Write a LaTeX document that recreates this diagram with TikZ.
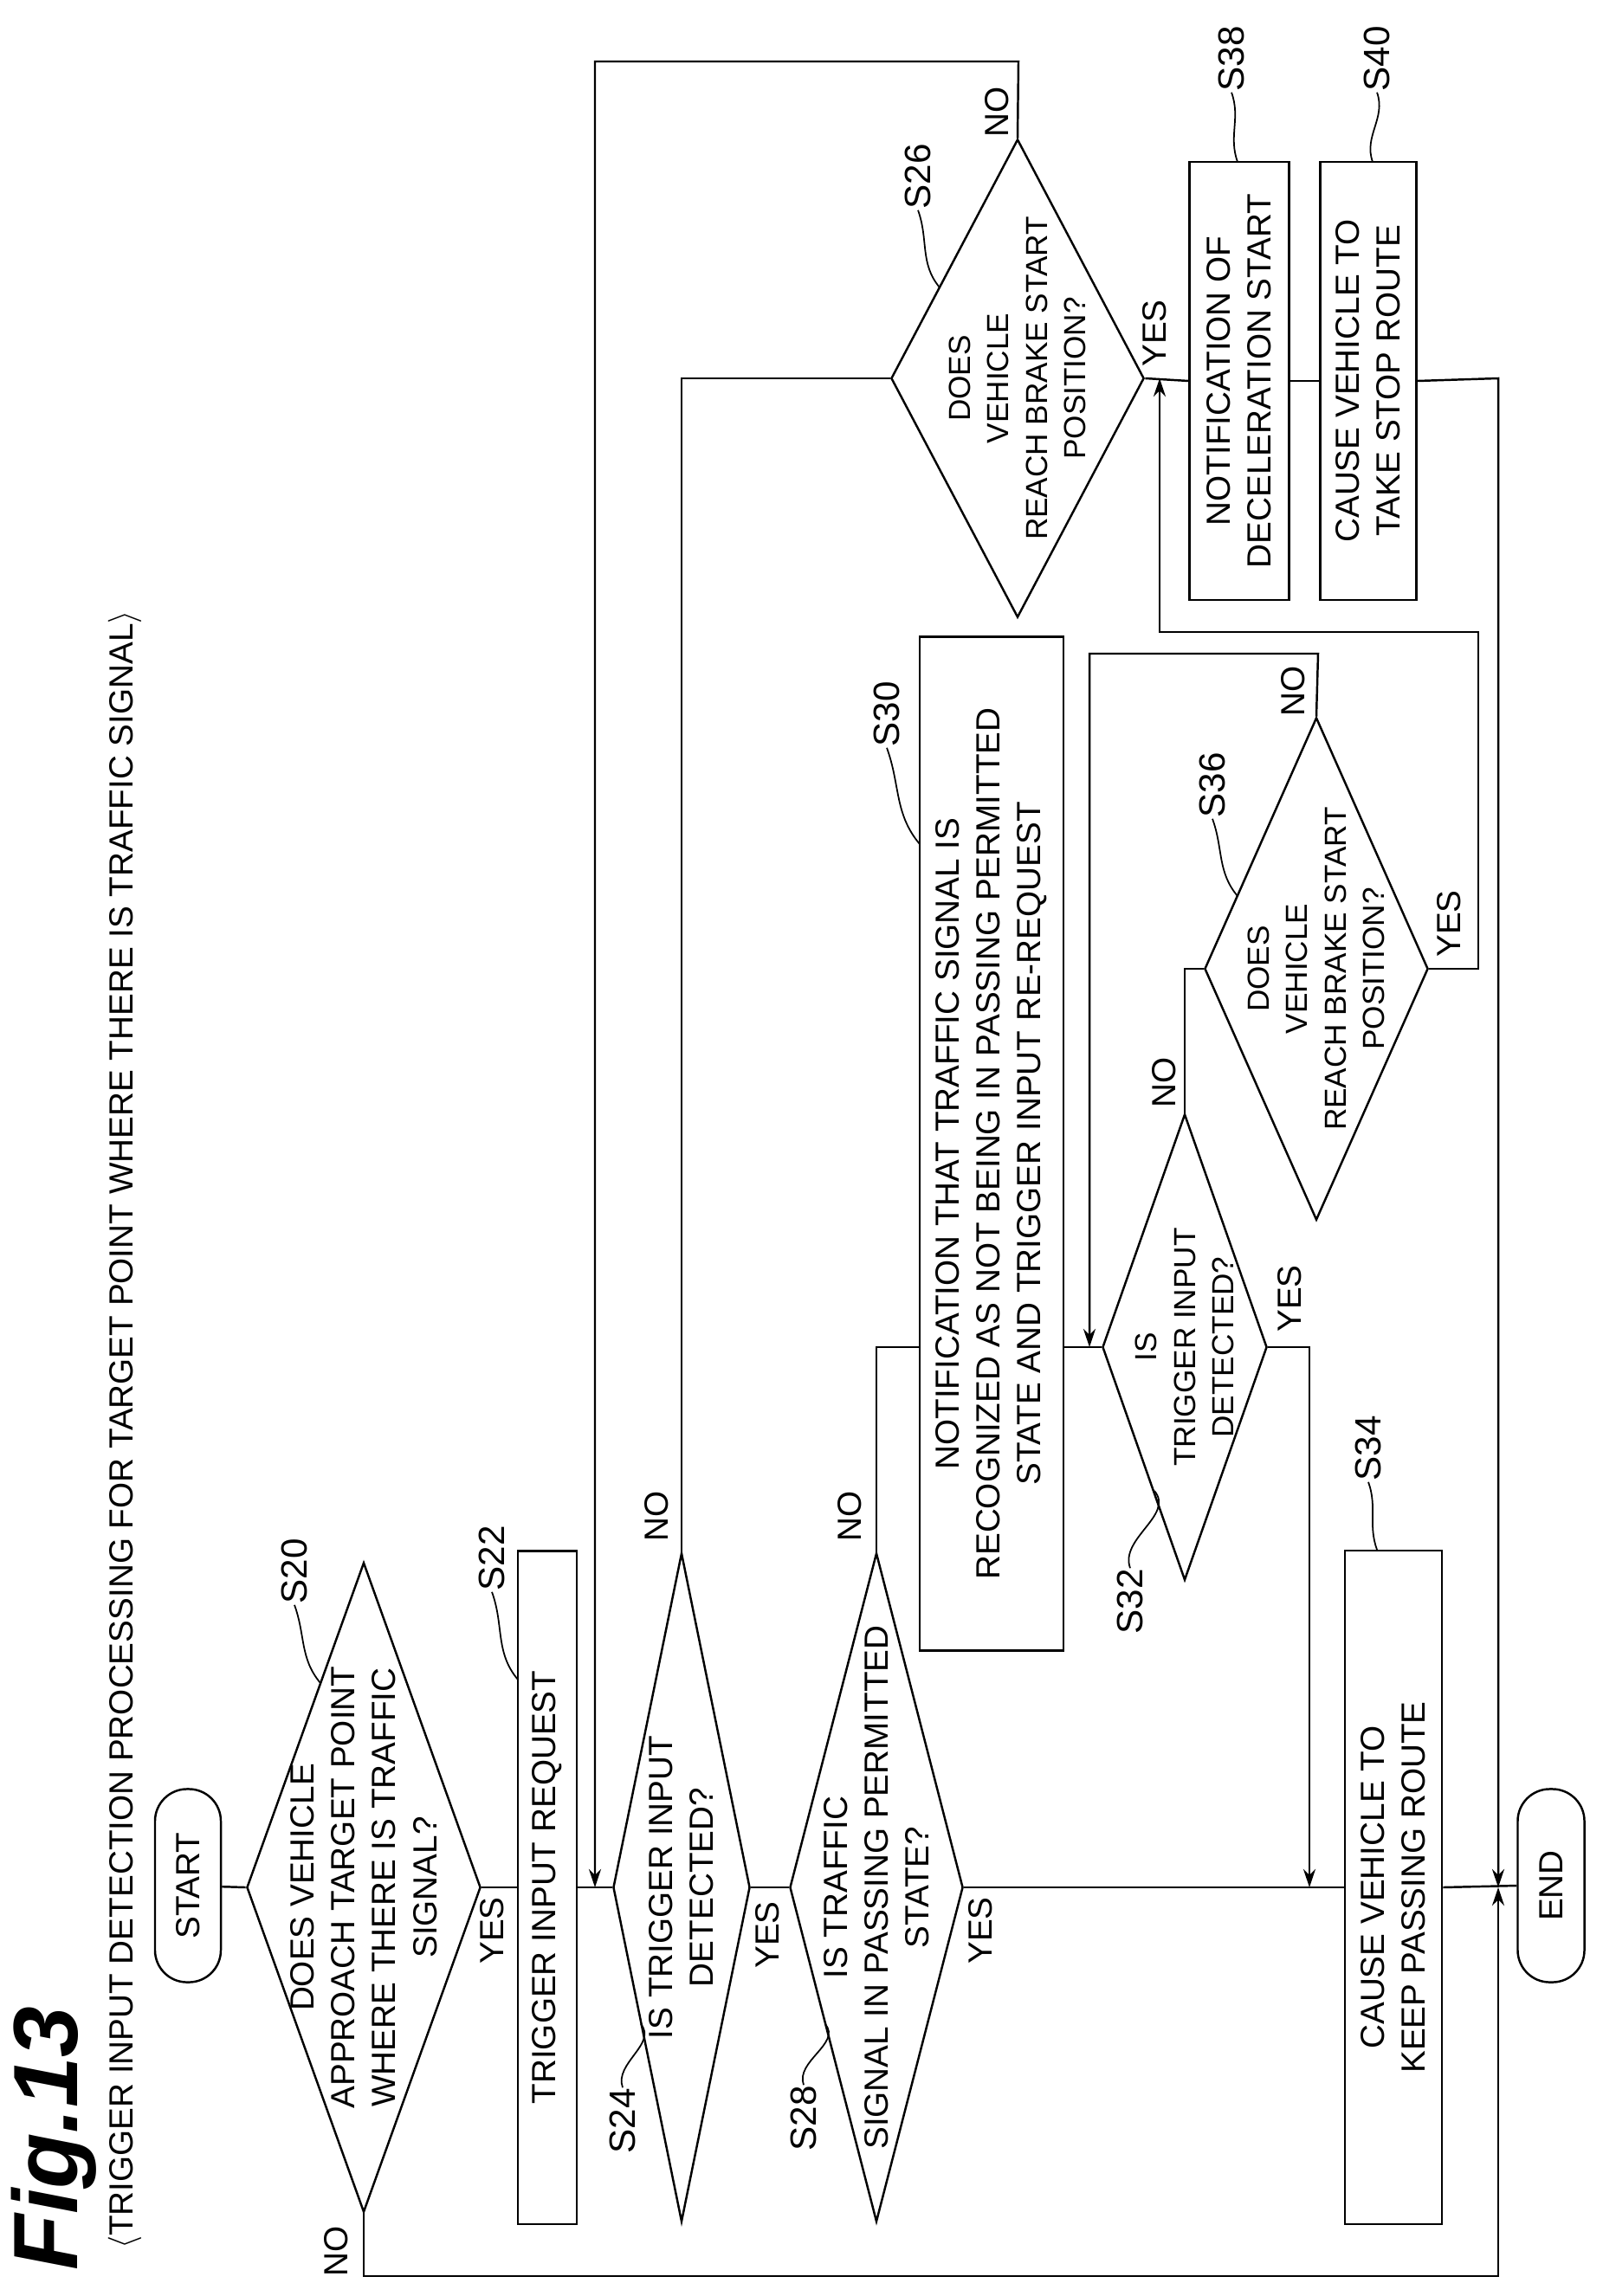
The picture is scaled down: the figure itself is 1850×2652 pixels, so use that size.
\documentclass[tikz,border=0pt]{standalone}
\usepackage{fontspec}
\setmainfont{Liberation Sans}
\usetikzlibrary{shapes.geometric,arrows.meta}

\begin{document}
\begin{tikzpicture}[x=0.01cm,y=0.01cm,line width=0.7pt,
	txt/.style={font=\fontsize{11}{13.4}\selectfont,align=center,inner sep=0pt},
	dtxt/.style={font=\fontsize{10}{12.6}\selectfont,align=center,inner sep=0pt},
	term/.style={draw,rounded corners=0.37cm,inner sep=0pt},
	proc/.style={draw,inner sep=0pt},
	dec/.style={draw,shape=diamond,inner sep=0pt},
	yn/.style={font=\fontsize{11}{13}\selectfont,inner sep=0pt},
	stepno/.style={font=\fontsize{12}{14}\selectfont,inner sep=0pt},
	into/.style={-{Stealth[length=6pt,width=4pt]}}]
	\useasboundingbox (0,0) rectangle (1850,-2652);
	\begin{scope}[rotate=90,transform shape]
	\node[font=\fontsize{30}{32}\selectfont\bfseries\itshape] (fig) at (-2470,-62) {Fig.13};
	\node[txt,anchor=west] (title) at (-2599,-144) {$\langle$TRIGGER INPUT DETECTION PROCESSING FOR TARGET POINT WHERE THERE IS TRAFFIC SIGNAL$\rangle$};

	% main column
	\node[term,minimum width=2.23cm,minimum height=0.76cm] (start) at (-2178,-217) {\fontsize{11}{13}\selectfont START};
	\node[dec,minimum width=7.5cm,minimum height=2.7cm] (s20) at (-2180,-420) {};
	\node[txt] at (s20) {DOES VEHICLE\\APPROACH TARGET POINT\\WHERE THERE IS TRAFFIC\\SIGNAL?};
	\node[proc,minimum width=7.77cm,minimum height=0.68cm] (s22) at (-2180,-632) {\fontsize{11}{13}\selectfont TRIGGER INPUT REQUEST};
	\node[dec,minimum width=7.72cm,minimum height=1.58cm] (s24) at (-2180,-787) {};
	\node[txt] at (s24) {IS TRIGGER INPUT\\DETECTED?};
	\node[dec,minimum width=7.72cm,minimum height=2.0cm] (s28) at (-2180,-1012) {};
	\node[txt] at (s28) {IS TRAFFIC\\SIGNAL IN PASSING PERMITTED\\STATE?};
	\node[proc,minimum width=7.78cm,minimum height=1.12cm,txt,draw] (s34) at (-2180,-1609) {CAUSE VEHICLE TO\\KEEP PASSING ROUTE};
	\node[term,minimum width=2.23cm,minimum height=0.77cm] (end) at (-2178,-1791) {\fontsize{11}{13}\selectfont END};

	% side branches
	\node[proc,minimum width=11.7cm,minimum height=1.66cm,txt,draw] (s30) at (-1321,-1145) {NOTIFICATION THAT TRAFFIC SIGNAL IS\\RECOGNIZED AS NOT BEING IN PASSING PERMITTED\\STATE AND TRIGGER INPUT RE-REQUEST};
	\node[dec,minimum width=5.38cm,minimum height=1.9cm] (s32) at (-1556,-1368) {};
	\node[dtxt] at (s32) {IS\\TRIGGER INPUT\\DETECTED?};
	\node[dec,minimum width=5.8cm,minimum height=2.58cm] (s36) at (-1119,-1520) {};
	\node[dtxt] at (s36) {DOES\\VEHICLE\\REACH BRAKE START\\POSITION?};
	\node[dec,minimum width=5.52cm,minimum height=2.92cm] (s26) at (-437,-1175) {};
	\node[dtxt] at (s26) {DOES\\VEHICLE\\REACH BRAKE START\\POSITION?};
	\node[proc,minimum width=5.06cm,minimum height=1.15cm,txt,draw] (s38) at (-440,-1431) {NOTIFICATION OF\\DECELERATION START};
	\node[proc,minimum width=5.06cm,minimum height=1.11cm,txt,draw] (s40) at (-440,-1580) {CAUSE VEHICLE TO\\TAKE STOP ROUTE};

	% junction points
	\coordinate (j22) at (-2180,-687);
	\coordinate (j34) at (-2180,-1512);
	\coordinate (jend) at (-2180,-1730);
	\coordinate (j32) at (-1556,-1258);
	\coordinate (j26) at (-437,-1339);

	% main flow
	\draw (start) -- (s20.north);
	\draw (s20.south) -- (s22.north);
	\draw (s22.south) -- (s24.north);
	\draw (s24.south) -- (s28.north);
	\draw (s28.south) -- (s34.north);
	\draw (s34.south) -- (end.north);

	% branches
	\draw[into] (s20.west) -- (-2629,-420) -- (-2629,-1730) -- (jend);
	\draw (s24.east) -- (-437,-787) -- (s26.north);
	\draw[into] (s26.east) -- (-71,-1176) -- (-71,-687) -- (j22);
	\draw (s26.south) -- (s38.north);
	\draw (s38.south) -- (s40.north);
	\draw[into] (s40.south) -- (-437,-1730) -- (jend);
	\draw (s28.east) -- (-1556,-1012) -- (-1556,-1012 |- s30.north);
	\draw (s32.north |- s30.south) -- (s32.north);
	\draw[into] (s32.south) -- (-1556,-1512) -- (j34);
	\draw (s32.east) -- (-1119,-1368) -- (s36.north);
	\draw[into] (s36.east) -- (-755,-1522) -- (-755,-1258) -- (j32);
	\draw[into] (s36.south) -- (-1119,-1707) -- (-730,-1707) -- (-730,-1339) -- (j26);

	% YES / NO
	\node[yn] at (-2600,-388) {NO};
	\node[yn] at (-2230,-568) {YES};
	\node[yn] at (-2235,-886) {YES};
	\node[yn] at (-2230,-1132) {YES};
	\node[yn] at (-1751,-758) {NO};
	\node[yn] at (-1751,-981) {NO};
	\node[yn] at (-129,-1151) {NO};
	\node[yn] at (-385,-1333) {YES};
	\node[yn] at (-1250,-1344) {NO};
	\node[yn] at (-1500,-1489) {YES};
	\node[yn] at (-798,-1493) {NO};
	\node[yn] at (-1067,-1673) {YES};

	% step numbers
	\node[stepno] (l20) at (-1815,-340) {S20};
	\node[stepno] (l22) at (-1800,-568) {S22};
	\node[stepno] (l24) at (-2450,-719) {S24};
	\node[stepno] (l28) at (-2447,-928) {S28};
	\node[stepno] (l26) at (-204,-1060) {S26};
	\node[stepno] (l30) at (-825,-1024) {S30};
	\node[stepno] (l32) at (-1850,-1305) {S32};
	\node[stepno] (l34) at (-1673,-1580) {S34};
	\node[stepno] (l36) at (-907,-1400) {S36};
	\node[stepno] (l38) at (-68,-1422) {S38};
	\node[stepno] (l40) at (-68,-1590) {S40};
	\draw[line width=0.5pt] (l20.west) to[out=200,in=40] (-1944,-370);
	\draw[line width=0.5pt] (l22.west) to[out=200,in=40] (-1940,-598);
	\draw[line width=0.5pt] (l24.east) to[out=20,in=220] (-2338,-740);
	\draw[line width=0.5pt] (l28.east) to[out=20,in=220] (-2338,-953);
	\draw[line width=0.5pt] (l26.west) to[out=200,in=40] (-332,-1085);
	\draw[line width=0.5pt] (l30.west) to[out=200,in=40] (-975,-1062);
	\draw[line width=0.5pt] (l32.east) to[out=20,in=220] (-1722,-1333);
	\draw[line width=0.5pt] (l34.west) to[out=200,in=20] (-1790,-1590);
	\draw[line width=0.5pt] (l36.west) to[out=200,in=40] (-1035,-1429);
	\draw[line width=0.5pt] (l38.west) to[out=200,in=20] (-187,-1429);
	\draw[line width=0.5pt] (l40.west) to[out=200,in=20] (-187,-1585);
	\end{scope}
\end{tikzpicture}
\end{document}
